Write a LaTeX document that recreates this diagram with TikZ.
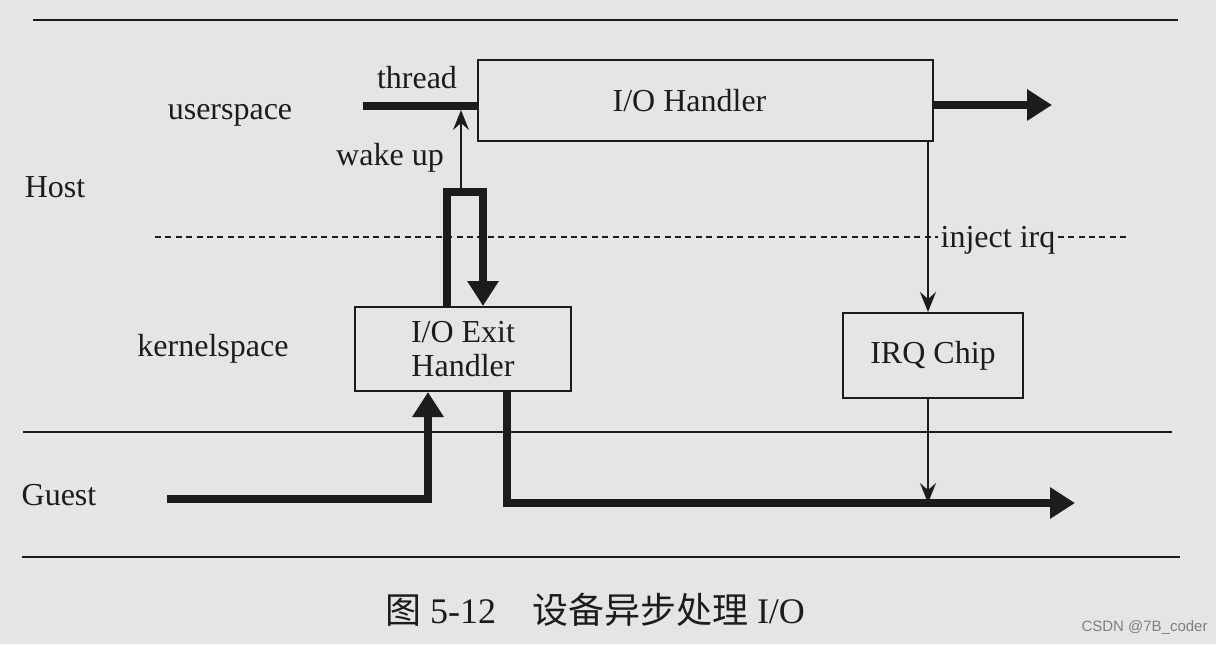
\documentclass[tikz,border=0pt]{standalone}
\usepackage{fontspec}
\setmainfont{Liberation Serif}
\newfontfamily\cjkfont{Noto Sans CJK SC}
\newfontfamily\markfont{Liberation Sans}
\usetikzlibrary{arrows.meta,positioning}

\definecolor{paper}{RGB}{229,229,227}
\definecolor{ink}{RGB}{28,28,28}
\newcommand{\lblsize}{\fontsize{16pt}{17pt}\selectfont}

\begin{document}
\begin{tikzpicture}[
    x=0.5pt, y=-0.5pt,
    box/.style={rectangle, draw=ink, line width=1pt, inner sep=0pt, align=center, font=\lblsize, text=ink},
    lbl/.style={inner sep=1pt, font=\lblsize, text=ink},
    sepline/.style={draw=ink, line width=1.1pt},
    dashline/.style={draw=ink, line width=0.9pt, dash pattern=on 3pt off 2.2pt},
    thickline/.style={draw=ink, line width=4.2pt},
    thickarrow/.style={thickline, -{Triangle[length=12.5pt,width=15pt]}},
    thinarrow/.style={draw=ink, line width=1pt, -{Stealth[length=10pt,width=8pt,inset=3.5pt]}}
]

% Page and frame
\fill[paper] (0,0) rectangle (1216,644);
\useasboundingbox (0,0) rectangle (1216,644);

% Separator lines
\draw[sepline] (33,20) -- (1178,20);
\draw[sepline] (23,432) -- (1172,432);
\draw[sepline] (22,557) -- (1180,557);

% Layer labels
\node[lbl] (userspace) at (230,115) {userspace};
\node[lbl] (host) at (55,187) {Host};
\node[lbl] (kernelspace) at (213,349) {kernelspace};
\node[lbl] (guest) at (59,495) {Guest};

% Boxes
\node[box, minimum width=227.5pt, minimum height=40.5pt] (iohandler) at (705.5,100.5) {I/O Handler\hspace{16pt}};
\node[box, minimum width=108pt, minimum height=42pt] (exithandler) at (463,349) {I/O Exit\\Handler};
\node[box, minimum width=90pt, minimum height=42.5pt] (irqchip) at (933,355.5) {IRQ Chip};

% Labels on the connectors
\node[lbl] (thread) at (417,78) {thread};
\node[lbl] (wakeup) at (390,158) {wake up};
\node[lbl] (injectirq) at (998,240) {inject irq};

% Host / guest boundary
\coordinate (dashstart) at (155,237);
\coordinate (dashend) at (1130,237);
\draw[dashline] (dashstart) -- (dashstart -| injectirq.west);
\draw[dashline] (injectirq.east |- dashend) -- (dashend);

% Free ends
\coordinate (threadstart) at (363,106);
\coordinate (hostout) at (1052,105);
\coordinate (guestin) at (167,499);
\coordinate (guestout) at (1075,503);
\coordinate (loopleft) at (447,192);
\coordinate (loopright) at (483,192);
\coordinate (irqline) at (928,0);

% Thick flows
\draw[thickline] (threadstart) -- (threadstart -| iohandler.west);
\draw[thickarrow] (iohandler.east |- hostout) -- (hostout);
\draw[thickarrow] (guestin) -| (428,0 |- exithandler.south);
\draw[thickarrow] (507,0 |- exithandler.south) |- (guestout);
\draw[thickarrow, line join=miter] (loopleft |- exithandler.north) -- (loopleft) -- (loopright) -- (loopright |- exithandler.north);

% Thin arrows
\draw[thinarrow] (461,192) -- (461,110);
\draw[thinarrow] (irqline |- iohandler.south) -- (irqline |- irqchip.north);
\draw[thinarrow] (irqline |- irqchip.south) -- (irqline |- guestout);

% Caption
\node[inner sep=0pt, font=\fontsize{18pt}{21pt}\selectfont, text=ink] (caption) at (595,610)
    {{\cjkfont 图} 5-12\hspace{1em}{\cjkfont 设备异步处理} I/O};
\node[anchor=east, inner sep=0pt, font=\markfont\fontsize{7.5pt}{9pt}\selectfont, text=gray] (mark) at (1208,628) {CSDN @7B\_coder};

\end{tikzpicture}
\end{document}
